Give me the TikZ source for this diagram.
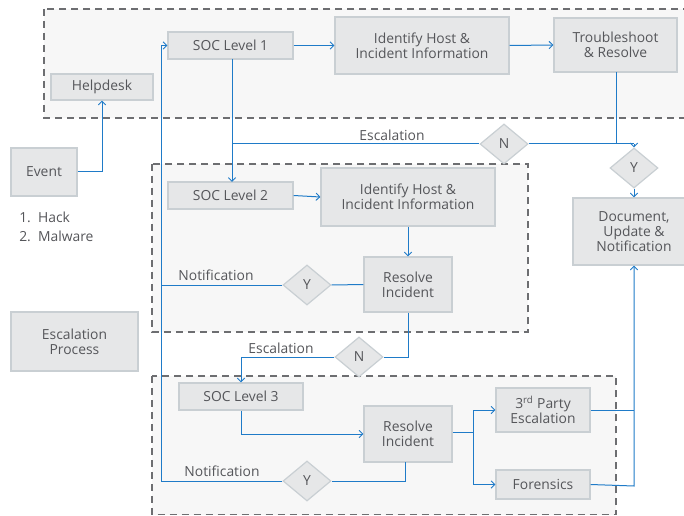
\documentclass[tikz,border=0pt]{standalone}
\usepackage{fontspec}
\setmainfont{Open Sans}
\usetikzlibrary{shapes.geometric,arrows.meta,calc}
\definecolor{boxfill}{HTML}{E6E7E8}
\definecolor{boxline}{HTML}{C9CFD3}
\definecolor{contfill}{HTML}{F7F7F7}
\definecolor{contline}{HTML}{6D6E71}
\definecolor{flow}{HTML}{1F7BC8}
\definecolor{txt}{HTML}{55565A}
\tikzset{
  pbox/.style 2 args={draw=boxline, fill=boxfill, line width=0.9pt, text=txt,
     minimum width=#1*0.75pt, minimum height=#2*0.75pt, inner sep=1pt,
     align=center, font=\fontsize{10.4}{11.4}\selectfont},
  dec/.style={diamond, draw=boxline, fill=boxfill, line width=0.9pt, text=txt,
     minimum width=36pt, minimum height=30pt, inner sep=0pt,
     font=\fontsize{10.4}{11.4}\selectfont},
  cont/.style={draw=contline, fill=contfill, line width=1.1pt, dash pattern=on 5.5pt off 3.5pt},
  flowl/.style={draw=flow, line width=0.75pt},
  arr/.style={flowl, -{Straight Barb[length=2.8pt,width=5.5pt,line width=0.7pt]}},
  lbl/.style={text=txt, font=\fontsize{10.4}{11.4}\selectfont, inner sep=0pt},
}
\begin{document}
\begin{tikzpicture}[x=0.75pt,y=-0.75pt]
\clip (0,0) rectangle (684,516);
\fill[white] (0,0) rectangle (684,516);
% containers
\draw[cont] (44,9) rectangle (720,118);
\draw[cont] (152,164) rectangle (528,332);
\draw[cont] (152,376) rectangle (616,514.5);
% nodes
\node[pbox={125}{27}] (soc1) at (230.5,45.5) {SOC Level 1};
\node[pbox={102}{26}] (help) at (102,87) {Helpdesk};
\node[pbox={66}{48}] (event) at (44,172) {Event};
\node[pbox={174}{57}] (id1) at (422,45.5) {Identify Host \&\\Incident Information};
\node[pbox={123}{54}] (trb) at (615.5,45) {Troubleshoot\\\& Resolve};
\node[pbox={122}{67}] (doc) at (634,231.5) {Document,\\Update \&\\Notification};
\node[pbox={125}{27}] (soc2) at (230.5,195.5) {SOC Level 2};
\node[pbox={174}{58}] (id2) at (408,197) {Identify Host \&\\Incident Information};
\node[pbox={88}{55}] (res2) at (408,284.5) {Resolve\\Incident};
\node[pbox={124}{27}] (soc3) at (241,396.5) {SOC Level 3};
\node[pbox={88}{56}] (res3) at (408,434) {Resolve\\Incident};
\node[pbox={94}{44}] (third) at (543,410) {3\textsuperscript{rd} Party\\Escalation};
\node[pbox={94}{29}] (foren) at (543,484.5) {Forensics};
\node[pbox={127}{59}] (esc) at (74.5,341.5) {Escalation\\Process};
\node[dec] (n1) at (504,144) {N};
\node[dec] (y1) at (634,168) {Y};
\node[dec] (y2) at (307,285) {Y};
\node[dec] (n2) at (359,357) {N};
\node[dec] (y3) at (307,481) {Y};
\coordinate (lft) at (161,481);
\coordinate (br1) at (473,432);
\coordinate (br2) at (634,486);
% labels
\node[lbl, anchor=west] (l1) at (19,217) {1.\ \ Hack};
\node[lbl, anchor=west] (l2) at (19,236) {2.\ \ Malware};
\node[lbl] (e1) at (392,135) {Escalation};
\node[lbl] (e2) at (281,348) {Escalation};
\node[lbl] (nt1) at (216,275) {Notification};
\node[lbl] (nt2) at (222,471) {Notification};
% connectors
\draw[arr] (event.east) -| (help.south);
\draw[arr] (soc1.east) -- (id1.west);
\draw[arr] (id1.east) -- (trb.west);
\draw[arr] (232,59) -- (232,182);
\draw[flowl] (232,144) -- (n1.west);
\draw[flowl] (n1.east) -- (634,144);
\draw[flowl] (616,72) -- (616,144);
\draw[arr] (634,144) -- (y1.north);
\draw[arr] (y1.south) -- (doc.north);
\draw[arr] (soc2.east) -- (id2.west);
\draw[arr] (id2.south) -- (res2.north);
\draw[flowl] (res2.west) -- (y2.east);
\draw[flowl] (y2.west) -- (161,285);
\draw[arr] (lft) -- (161,45.5) -- (soc1.west);
\draw[flowl] (res2.south) |- (n2.east);
\draw[arr] (n2.west) -| (soc3.north);
\draw[arr] (soc3.south) |- (res3.west);
\draw[flowl] (res3.east |- br1) -- (br1);
\draw[arr] (br1) |- (third.west);
\draw[arr] (br1) |- (foren.west);
\draw[flowl] (third.east) -- (third.east -| br2);
\draw[arr] (foren.east) -- (br2) -- (doc.south);
\draw[flowl] (405,462) |- (y3.east);
\draw[flowl] (y3.west) -- (lft);
\end{tikzpicture}
\end{document}
